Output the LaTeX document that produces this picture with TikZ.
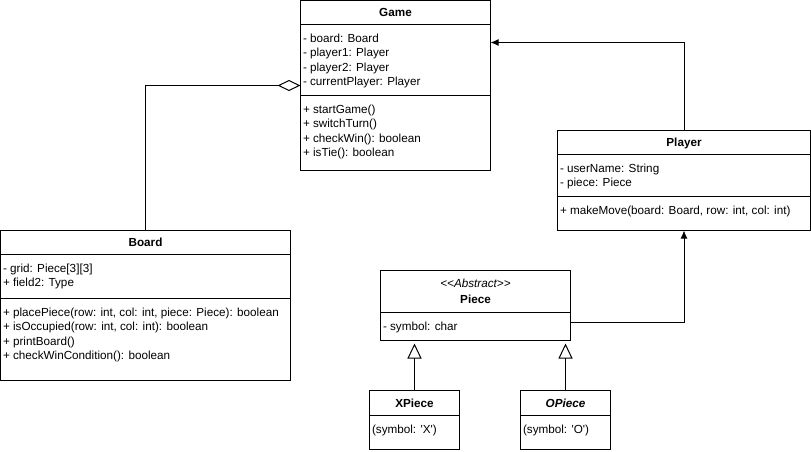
\documentclass[tikz,border=0pt]{standalone}
\usepackage{fontspec}
\setmainfont{Liberation Sans}
\usetikzlibrary{arrows.meta, positioning}

\begin{document}
\fontsize{11.7}{14.4}\selectfont
\begin{tikzpicture}[x=1pt, y=-1pt, line width=1pt,
    classbox/.style={draw, outer sep=0pt, inner sep=0pt, anchor=north west},
    classname/.style={classbox, font=\bfseries, text height=8.4pt, text depth=0pt},
    members/.style={anchor=north west, inner sep=0pt, align=left},
    assoc/.style={-{Latex[length=8pt, width=7pt]}},
    inherit/.style={-{Triangle[open, length=15pt, width=14pt]}, shorten >=3pt},
    aggr/.style={-{Diamond[open, length=23pt, width=11pt]}}]
    \fill[white] (0,0) rectangle (811,451);
    \useasboundingbox (0,0) rectangle (811,451);
    % Game
    \node[classname, minimum width=190pt, minimum height=24pt] (game) at (300.5,0.5) {Game};
    \node[classbox, minimum width=190pt, minimum height=71pt, below=0pt of game] (gameattr) {};
    \node[classbox, minimum width=190pt, minimum height=75pt, below=0pt of gameattr] (gameops) {};
    \node[members] (gameattrtext) at ([xshift=2pt, yshift=-7.5pt]gameattr.north west)
        {\strut- board: Board\\- player1: Player\\- player2: Player\\- currentPlayer: Player};
    \node[members] (gameopstext) at ([xshift=2pt, yshift=-7.5pt]gameops.north west)
        {\strut+ startGame()\\+ switchTurn()\\+ checkWin(): boolean\\+ isTie(): boolean};
    % Player
    \node[classname, minimum width=253pt, minimum height=24pt] (player) at (557.5,130.5) {Player};
    \node[classbox, minimum width=253pt, minimum height=42pt, below=0pt of player] (playerattr) {};
    \node[classbox, minimum width=253pt, minimum height=34pt, below=0pt of playerattr] (playerops) {};
    \node[members] (playerattrtext) at ([xshift=2pt, yshift=-7.5pt]playerattr.north west)
        {\strut- userName: String\\- piece: Piece};
    \node[members] (playeropstext) at ([xshift=2pt, yshift=-7.5pt]playerops.north west)
        {\strut+ makeMove(board: Board, row: int, col: int)};
    % Board
    \node[classname, minimum width=290pt, minimum height=23.5pt] (board) at (0.5,230.5) {Board};
    \node[classbox, minimum width=290pt, minimum height=44.5pt, below=0pt of board] (boardattr) {};
    \node[classbox, minimum width=290pt, minimum height=82pt, below=0pt of boardattr] (boardops) {};
    \node[members] (boardattrtext) at ([xshift=2pt, yshift=-7.5pt]boardattr.north west)
        {\strut- grid: Piece[3][3]\\+ field2: Type};
    \node[members] (boardopstext) at ([xshift=2pt, yshift=-7.5pt]boardops.north west)
        {\strut+ placePiece(row: int, col: int, piece: Piece): boolean\\+ isOccupied(row: int, col: int): boolean\\+ printBoard()\\+ checkWinCondition(): boolean};
    % Piece
    \node[classbox, minimum width=190pt, minimum height=42pt, align=center] (piece) at (380.5,270.5)
        {\textit{<\kern0pt<Abstract>\kern0pt>}\\[1.6pt]\textbf{Piece}};
    \node[classbox, minimum width=190pt, minimum height=28pt, below=0pt of piece] (pieceattr) {};
    \node[members] (pieceattrtext) at ([xshift=2pt, yshift=-7.5pt]pieceattr.north west)
        {\strut- symbol: char};
    % XPiece and OPiece
    \node[classname, minimum width=90pt, minimum height=25pt] (xpiece) at (369.5,390.5) {XPiece};
    \node[classbox, minimum width=90pt, minimum height=34pt, below=0pt of xpiece] (xpieceattr) {};
    \node[members] (xpieceattrtext) at ([xshift=2pt, yshift=-7pt]xpieceattr.north west)
        {\strut(symbol: \textquotesingle X\textquotesingle)};
    \node[classname, font=\bfseries\itshape, minimum width=90pt, minimum height=25pt] (opiece) at (520.5,390.5) {OPiece};
    \node[classbox, minimum width=90pt, minimum height=34pt, below=0pt of opiece] (opieceattr) {};
    \node[members] (opieceattrtext) at ([xshift=2pt, yshift=-7pt]opieceattr.north west)
        {\strut(symbol: \textquotesingle O\textquotesingle)};
    % Relations
    \draw[aggr] (board.north) |- ([yshift=10pt]gameattr.south west);
    \draw[assoc] (player.north) |- ([yshift=-18pt]gameattr.north east);
    \draw[assoc] ([yshift=-9.5pt]pieceattr.north east) -| (playerops.south);
    \draw[inherit] (xpiece.north) -- (xpiece.north |- pieceattr.south);
    \draw[inherit] (opiece.north) -- (opiece.north |- pieceattr.south);
\end{tikzpicture}
\end{document}
